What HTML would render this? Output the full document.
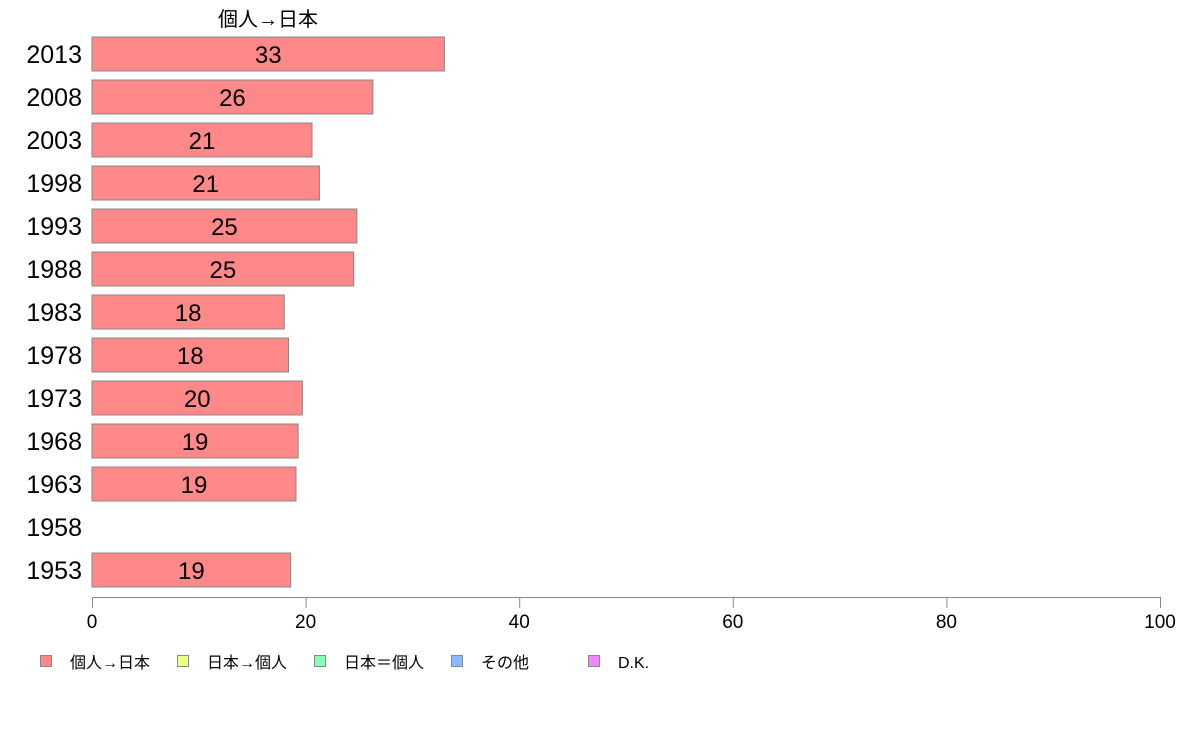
<!DOCTYPE html>
<html><head><meta charset="utf-8"><style>
body{margin:0;background:#fff;}
svg{display:block;font-family:"Liberation Sans","Noto Sans CJK JP",sans-serif;}
</style></head><body>
<svg id="chart" width="1188" height="736">
<text x="268" y="26" font-size="20" text-anchor="middle">個人→日本</text>
<g id="bars"></g>
<g id="axis"></g>
<g id="legend"></g>
</svg>
<script>
const categories=["2013","2008","2003","1998","1993","1988","1983","1978","1973","1968","1963","1958","1953"];
const values=[33.0,26.3,20.6,21.3,24.8,24.5,18.0,18.4,19.7,19.3,19.1,null,18.6];
const labels=["33","26","21","21","25","25","18","18","20","19","19","","19"];
const ticks=[0,20,40,60,80,100];
const legendNames=["個人→日本","日本→個人","日本＝個人","その他","D.K."];
const legendColors=["#ff8888","#eeff88","#88ffbb","#88bbff","#ee88ff"];
const NS="http://www.w3.org/2000/svg";
const x=v=>92+v*10.68;
const y=i=>54+i*43;
function mk(t,a,p){const e=document.createElementNS(NS,t);for(const k in a)e.setAttribute(k,a[k]);p.appendChild(e);return e;}
const gb=document.getElementById('bars');
categories.forEach((c,i)=>{
  const t=mk('text',{x:82,y:y(i)+9,'font-size':25,'text-anchor':'end',fill:'#000'},gb);
  t.textContent=c;
  
  
  if(values[i]==null)return;
  const r=mk('rect',{x:x(0),y:y(i)-17,width:x(values[i])-x(0),height:34,fill:'#ff8888',stroke:'#888','stroke-width':1},gb);
  
  
  const l=mk('text',{x:(x(0)+x(values[i]))/2,y:y(i)+9,'font-size':24,'text-anchor':'middle'},gb);
  l.textContent=labels[i];
  
  
});
const ga=document.getElementById('axis');
const al=mk('line',{x1:x(0),x2:x(100),y1:597.5,y2:597.5,stroke:'#888'},ga);


ticks.forEach(v=>{
  mk('line',{x1:x(v)+0.5,x2:x(v)+0.5,y1:597,y2:608,stroke:'#888'},ga);
  const t=mk('text',{x:x(v),y:628,'font-size':19,'text-anchor':'middle'},ga);
  t.textContent=v;
  
  
});
const gl=document.getElementById('legend');
legendNames.forEach((n,i)=>{
  const bx=40+i*137;
  const r=mk('rect',{x:bx+0.5,y:655.5,width:11,height:11,fill:legendColors[i],stroke:'#888'},gl);
  
  
  const t=mk('text',{x:bx+30,y:668,'font-size':16},gl);
  t.textContent=n;
  
  
});
</script>
</body></html>
